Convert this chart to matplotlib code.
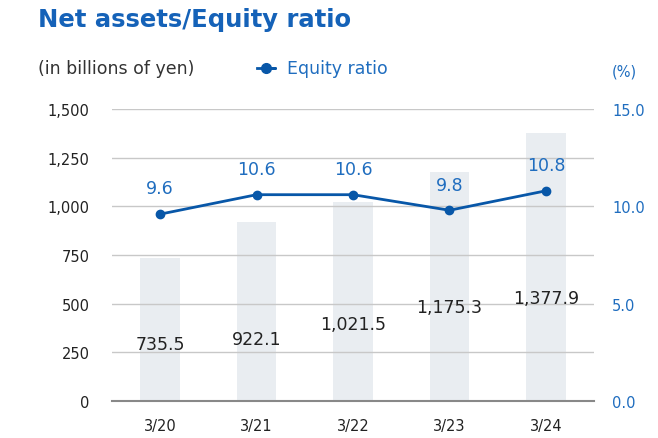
import matplotlib
matplotlib.use("Agg")
import matplotlib.pyplot as plt
from matplotlib.lines import Line2D

years = ["3/20", "3/21", "3/22", "3/23", "3/24"]
net_assets = [735.5, 922.1, 1021.5, 1175.3, 1377.9]
equity_ratio = [9.6, 10.6, 10.6, 9.8, 10.8]

# heights at which the bar value labels sit (billions of yen)
label_heights = [295, 320, 395, 485, 530]

BLUE = "#1F6DBF"
LINE_BLUE = "#0857A8"
BAR = "#E9EDF1"

plt.rcParams['font.family'] = ['DejaVu Sans']

fig = plt.figure(figsize=(6.58, 4.39), dpi=100)
ax = fig.add_axes([0.170, 0.0843, 0.733, 0.665])
x = range(len(years))

ax.bar(x, net_assets, width=0.41, color=BAR, zorder=1)
ax.set_xlim(-0.5, 4.5)
ax.set_ylim(0, 1500)
ax.set_yticks([0, 250, 500, 750, 1000, 1250, 1500])
ax.set_yticklabels([f"{v:,}" for v in [0, 250, 500, 750, 1000, 1250, 1500]])
ax.yaxis.grid(True, color="#C8C8C8", linewidth=1, zorder=2)
ax.set_axisbelow(False)
for s in ["top", "right", "left"]:
    ax.spines[s].set_visible(False)
ax.spines["bottom"].set_color("#888888")
ax.spines["bottom"].set_linewidth(1.5)
ax.spines["bottom"].set_zorder(3)
ax.tick_params(axis="both", length=0, labelsize=10.5, colors="#222222")
ax.tick_params(axis="y", pad=16)
ax.tick_params(axis="x", pad=12)
ax.set_xticks(list(x))
ax.set_xticklabels(years)

for i, v in enumerate(net_assets):
    ax.text(i, label_heights[i], f"{v:,.1f}", ha="center", va="center",
            fontsize=12.5, color="#222222", zorder=5)

ax2 = ax.twinx()
ax2.set_ylim(0, 15)
ax2.set_yticks([0, 5, 10, 15])
ax2.set_yticklabels([f"{v:.1f}" for v in [0, 5, 10, 15]])
for s in ax2.spines.values():
    s.set_visible(False)
ax2.tick_params(axis="y", length=0, labelsize=10.5, colors=BLUE, pad=13)
ax2.plot(list(x), equity_ratio, color=LINE_BLUE, linewidth=2, marker="o",
         markersize=6, zorder=6)
for i, v in enumerate(equity_ratio):
    ax2.annotate(f"{v:.1f}", (i, v), xytext=(0, 12), textcoords="offset points",
                 ha="center", va="bottom", fontsize=12.5, color=BLUE)

fig.text(0.058, 0.955, "Net assets/Equity ratio", fontsize=17.5, fontweight="bold",
         color="#1562B8", va="center")
fig.text(0.058, 0.843, "(in billions of yen)", fontsize=12.5, color="#333333", va="center")
legend_mark = Line2D([0.390, 0.418, 0.404], [0.843, 0.843, 0.843],
                     transform=fig.transFigure, color=LINE_BLUE, linewidth=2,
                     marker="o", markersize=7, markevery=[2])
fig.lines.append(legend_mark)
fig.text(0.436, 0.843, "Equity ratio", fontsize=12.5, color=BLUE, va="center")
fig.text(0.930, 0.835, "(%)", fontsize=10.5, color=BLUE, va="center")

fig.savefig("out.png", dpi=100)
